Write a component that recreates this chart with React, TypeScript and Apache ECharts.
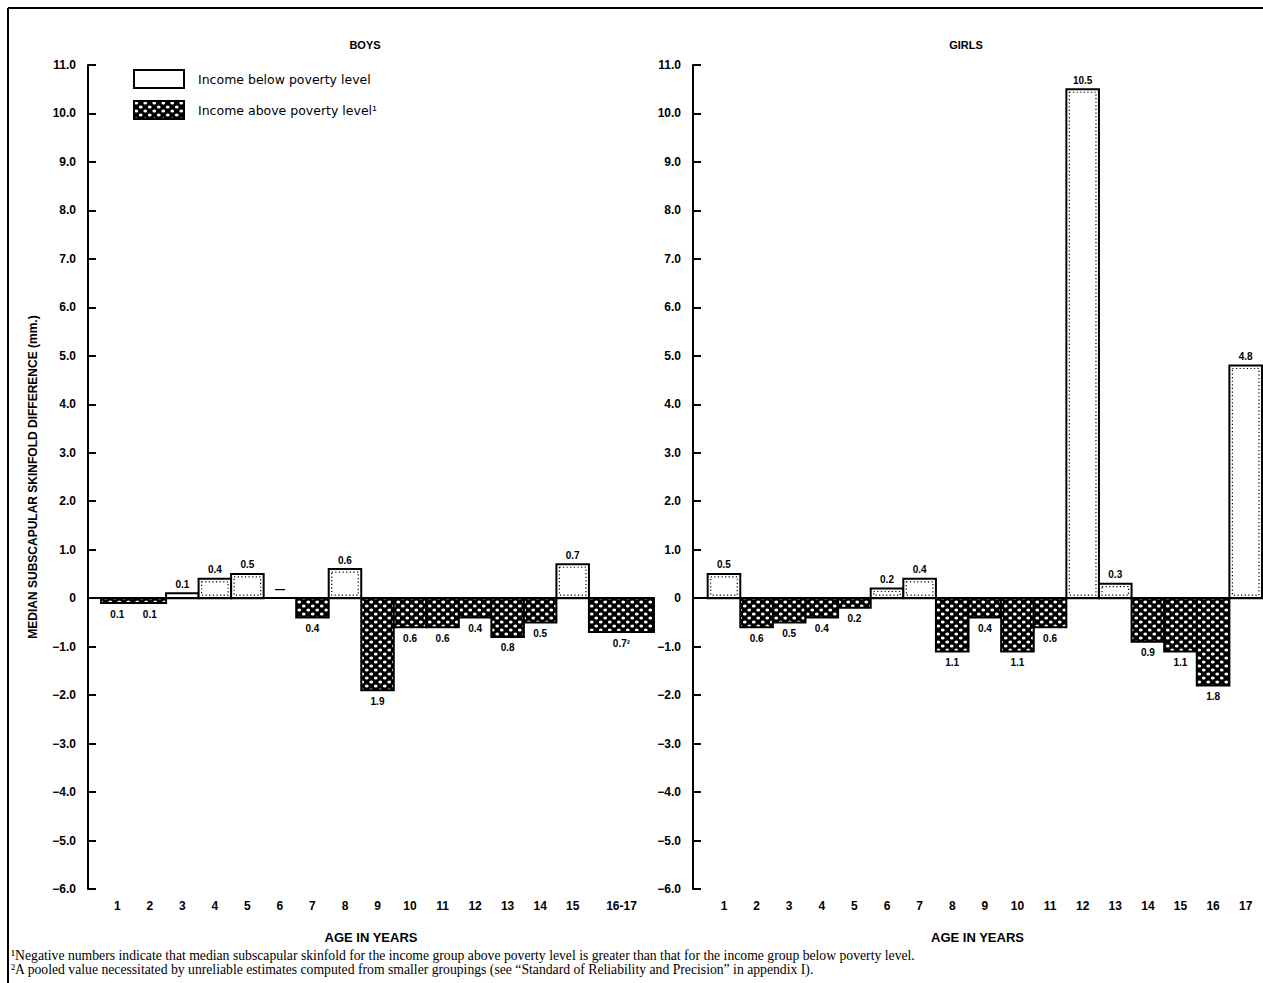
import React, { useEffect, useRef } from "react";
import * as echarts from "echarts";

const boysAges = ["1", "2", "3", "4", "5", "6", "7", "8", "9", "10", "11", "12", "13", "14", "15", "16-17"];
const boysValues = [-0.1, -0.1, 0.1, 0.4, 0.5, 0, -0.4, 0.6, -1.9, -0.6, -0.6, -0.4, -0.8, -0.5, 0.7, -0.7];
const boysLabels = ["0.1", "0.1", "0.1", "0.4", "0.5", "—", "0.4", "0.6", "1.9", "0.6", "0.6", "0.4", "0.8", "0.5", "0.7", "0.7²"];

const girlsAges = ["1", "2", "3", "4", "5", "6", "7", "8", "9", "10", "11", "12", "13", "14", "15", "16", "17"];
const girlsValues = [0.5, -0.6, -0.5, -0.4, -0.2, 0.2, 0.4, -1.1, -0.4, -1.1, -0.6, 10.5, 0.3, -0.9, -1.1, -1.8, 4.8];
const girlsLabels = ["0.5", "0.6", "0.5", "0.4", "0.2", "0.2", "0.4", "1.1", "0.4", "1.1", "0.6", "10.5", "0.3", "0.9", "1.1", "1.8", "4.8"];

const yMin = -6;
const yMax = 11;
const yInterval = 1;

const BELOW = "Income below poverty level";
const ABOVE = "Income above poverty level¹";
const Y_NAME = "MEDIAN SUBSCAPULAR SKINFOLD DIFFERENCE (mm.)";
const X_NAME = "AGE IN YEARS";
const NOTE1 =
  "¹Negative numbers indicate that median subscapular skinfold for the income group above poverty level is greater than that for the income group below poverty level.";
const NOTE2 =
  "²A pooled value necessitated by unreliable estimates computed from smaller groupings (see “Standard of Reliability and Precision” in appendix I).";

const FONT = "'Liberation Sans', Arial, sans-serif";

function yearSpan(label: string): number {
  const p = label.split("-");
  return p.length === 2 ? Number(p[1]) - Number(p[0]) + 1 : 1;
}

function buildItems(ages: string[], values: number[]) {
  const items: any[] = [];
  let start = 0;
  ages.forEach((a, i) => {
    const w = yearSpan(a);
    items.push({ start, end: start + w, value: values[i], idx: i, center: start + w / 2 });
    start += w;
  });
  return items;
}

function makePattern() {
  const c = document.createElement("canvas");
  c.width = 9;
  c.height = 8;
  const g = c.getContext("2d")!;
  g.fillStyle = "#000";
  g.fillRect(0, 0, 9, 8);
  g.fillStyle = "#fff";
  const dots = [
    [2.25, 2],
    [6.75, 6],
  ];
  dots.forEach(([x, y]) => {
    g.beginPath();
    g.ellipse(x, y, 1.9, 1.5, 0, 0, Math.PI * 2);
    g.fill();
  });
  return { image: c, repeat: "repeat", imageWidth: 9, imageHeight: 8 } as any;
}

export default function App() {
  const ref = useRef<HTMLDivElement>(null);

  useEffect(() => {
    if (!ref.current) return;
    const chart = echarts.init(ref.current, undefined, { renderer: "svg" });
    const pattern = makePattern();

    const boysItems = buildItems(boysAges, boysValues);
    const girlsItems = buildItems(girlsAges, girlsValues);

    const makeRender = (labels: string[], negative: boolean) => (params: any, api: any) => {
      const x0 = api.value(0);
      const x1 = api.value(1);
      const v = api.value(2);
      const idx = api.value(3);
      const pTop = api.coord([x0, v]);
      const pBase = api.coord([x1, 0]);
      const left = pTop[0];
      const w = pBase[0] - pTop[0];
      const top = Math.min(pTop[1], pBase[1]);
      const h = Math.abs(pBase[1] - pTop[1]);
      const children: any[] = [];
      if (v !== 0) {
        children.push({
          type: "rect",
          shape: { x: left, y: top, width: w, height: h },
          style: negative
            ? { fill: pattern, stroke: "#000", lineWidth: 2 }
            : { fill: "#fff", stroke: "#000", lineWidth: 2 },
        });
        if (!negative && h > 6) {
          children.push({
            type: "rect",
            shape: { x: left + 3, y: top + 3, width: w - 6, height: h - 6 },
            style: { fill: "none", stroke: "#000", lineWidth: 1.2, lineDash: [1.2, 2.4] },
          });
        }
      }
      const cx = left + w / 2;
      children.push({
        type: "text",
        x: cx,
        y: negative ? pTop[1] + 6 : pTop[1] - 4,
        style: {
          text: labels[idx],
          align: "center",
          verticalAlign: negative ? "top" : "bottom",
          font: `bold 10px ${FONT}`,
          fill: "#000",
        },
      });
      return { type: "group", children };
    };

    const seriesFor = (items: any[], labels: string[], axisIndex: number) => {
      const pos = items.filter((d) => d.value >= 0).map((d) => [d.start, d.end, d.value, d.idx]);
      const neg = items.filter((d) => d.value < 0).map((d) => [d.start, d.end, d.value, d.idx]);
      return [
        {
          type: "custom",
          name: BELOW,
          xAxisIndex: axisIndex,
          yAxisIndex: axisIndex,
          renderItem: makeRender(labels, false),
          encode: { x: [0, 1], y: 2 },
          itemStyle: { color: "#fff", borderColor: "#000", borderWidth: 2 },
          data: pos,
          z: 3,
          markLine: {
            silent: true,
            symbol: "none",
            label: { show: false },
            lineStyle: { color: "#000", width: 2, type: "solid" },
            data: [{ yAxis: 0 }],
          },
        },
        {
          type: "custom",
          name: ABOVE,
          xAxisIndex: axisIndex,
          yAxisIndex: axisIndex,
          renderItem: makeRender(labels, true),
          encode: { x: [0, 1], y: 2 },
          itemStyle: { color: pattern, borderColor: "#000", borderWidth: 2 },
          data: neg,
          z: 3,
        },
      ];
    };

    const xAxisFor = (gridIndex: number, items: any[], ages: string[], min: number) => {
      const lookup: Record<string, string> = {};
      items.forEach((d) => {
        lookup[String(d.center)] = ages[d.idx];
      });
      return {
        type: "value",
        gridIndex,
        min,
        max: items[items.length - 1].end,
        axisLine: { show: false, onZero: false },
        axisTick: { show: false },
        splitLine: { show: false },
        axisLabel: {
          customValues: items.map((d) => d.center),
          formatter: (val: number) => lookup[String(val)] ?? "",
          color: "#000",
          fontWeight: "bold",
          fontSize: 12,
          fontFamily: FONT,
          margin: 11,
        },
        name: X_NAME,
        nameLocation: "middle",
        nameGap: 42,
        nameTextStyle: { color: "#000", fontWeight: "bold", fontSize: 13, fontFamily: FONT },
      };
    };

    const yAxisFor = (gridIndex: number, withName: boolean) => ({
      type: "value",
      gridIndex,
      min: yMin,
      max: yMax,
      interval: yInterval,
      axisLine: { show: true, onZero: false, lineStyle: { color: "#000", width: 2 } },
      axisTick: { show: true, inside: true, length: 8, lineStyle: { color: "#000", width: 2 } },
      splitLine: { show: false },
      axisLabel: {
        color: "#000",
        fontWeight: "bold",
        fontSize: 12,
        fontFamily: FONT,
        margin: 12,
        formatter: (v: number) => (v === 0 ? "0" : v < 0 ? "−" + Math.abs(v).toFixed(1) : v.toFixed(1)),
      },
      name: withName ? Y_NAME : "",
      nameLocation: "middle",
      nameRotate: 90,
      nameGap: 49,
      nameTextStyle: { color: "#000", fontWeight: "bold", fontSize: 12, fontFamily: FONT },
    });

    chart.setOption({
      animation: false,
      backgroundColor: "#fff",
      grid: [
        { left: 88, top: 65, width: 566, height: 824, containLabel: false },
        { left: 693, top: 65, width: 569, height: 824, containLabel: false },
      ],
      xAxis: [xAxisFor(0, boysItems, boysAges, -0.4), xAxisFor(1, girlsItems, girlsAges, -0.45)],
      yAxis: [yAxisFor(0, true), yAxisFor(1, false)],
      legend: {
        orient: "vertical",
        left: 128,
        top: 64,
        itemWidth: 50,
        itemHeight: 18,
        itemGap: 11,
        icon: "rect",
        selectedMode: false,
        textStyle: { color: "#000", fontSize: 12.5, fontFamily: "'DejaVu Sans', sans-serif", padding: [0, 0, 0, 9] },
        data: [
          { name: BELOW, itemStyle: { color: "#fff", borderColor: "#000", borderWidth: 2 } },
          { name: ABOVE, itemStyle: { color: pattern, borderColor: "#000", borderWidth: 2 } },
        ],
      },
      graphic: [
        { type: "line", shape: { x1: 8, y1: 8, x2: 1263, y2: 8 }, style: { stroke: "#000", lineWidth: 2 } },
        { type: "line", shape: { x1: 8, y1: 8, x2: 8, y2: 983 }, style: { stroke: "#000", lineWidth: 2 } },
        {
          type: "text",
          x: 365,
          y: 45,
          style: { text: "BOYS", align: "center", verticalAlign: "middle", font: `bold 11px ${FONT}`, fill: "#000" },
        },
        {
          type: "text",
          x: 966,
          y: 45,
          style: { text: "GIRLS", align: "center", verticalAlign: "middle", font: `bold 11px ${FONT}`, fill: "#000" },
        },
        {
          type: "text",
          x: 11,
          y: 955,
          style: { text: NOTE1, verticalAlign: "middle", font: `13.7px 'Liberation Serif', serif`, fill: "#000" },
        },
        {
          type: "text",
          x: 11,
          y: 969,
          style: { text: NOTE2, verticalAlign: "middle", font: `13.7px 'Liberation Serif', serif`, fill: "#000" },
        },
      ],
      series: [...seriesFor(boysItems, boysLabels, 0), ...seriesFor(girlsItems, girlsLabels, 1)],
    });

    return () => chart.dispose();
  }, []);

  return <div ref={ref} style={{ position: "fixed", left: 0, top: 0, width: 1263, height: 983 }} />;
}
